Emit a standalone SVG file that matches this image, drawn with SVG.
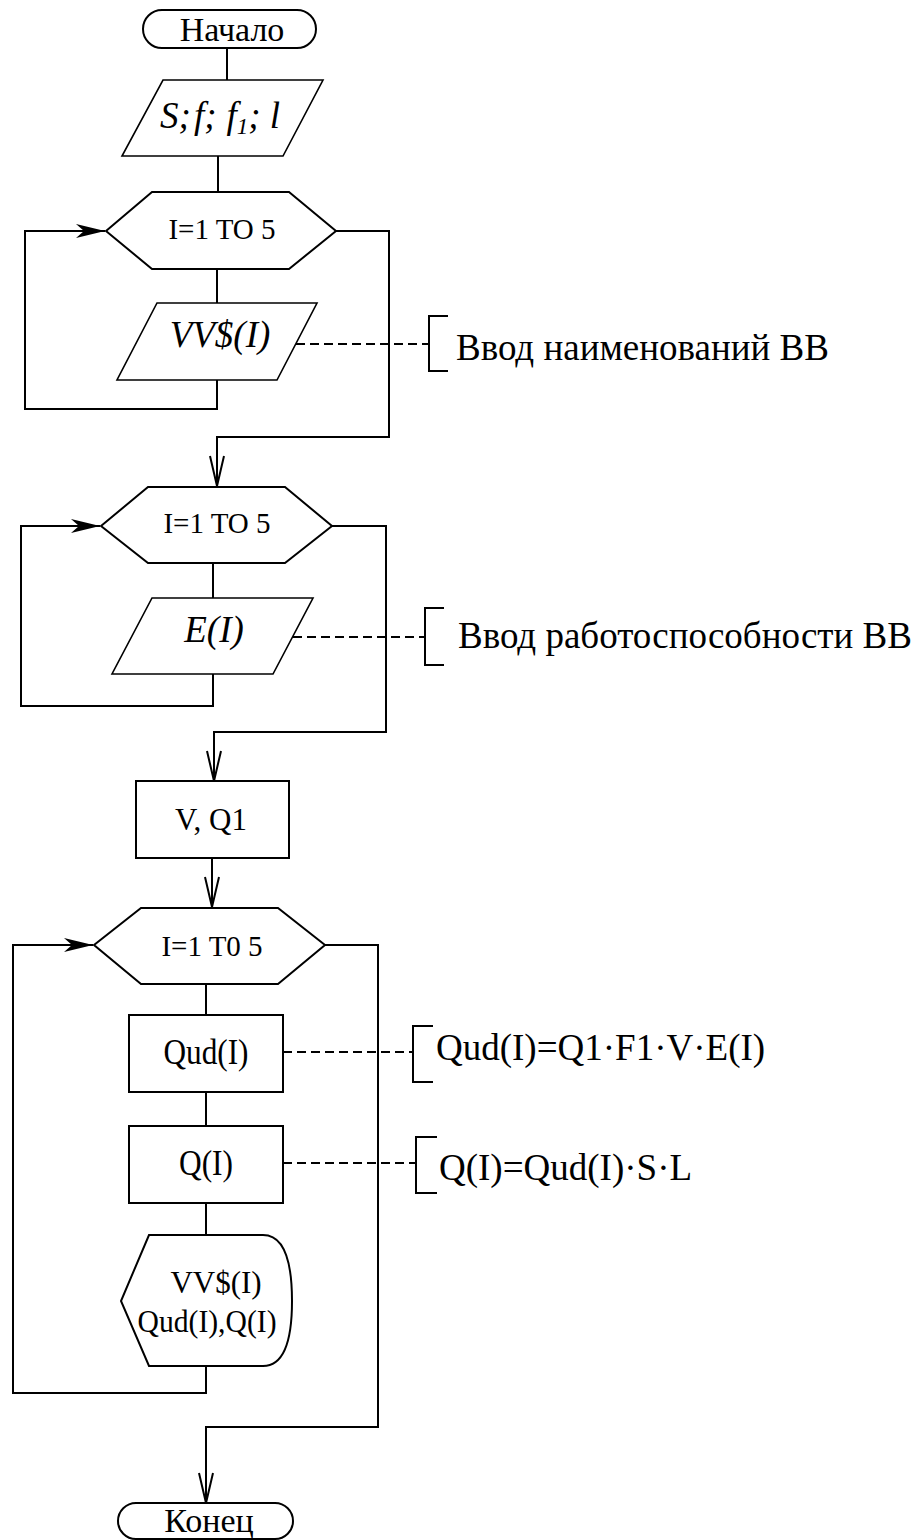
<svg xmlns="http://www.w3.org/2000/svg" width="920" height="1540" viewBox="0 0 920 1540">
  <style>
    .shape { fill: #fff; stroke: #000; stroke-width: 2; }
    .thin { fill: #fff; stroke: #000; stroke-width: 1.6; }
    .line { fill: none; stroke: #000; stroke-width: 2; }
    .dash { fill: none; stroke: #000; stroke-width: 2; stroke-dasharray: 9 5; }
    .brk { fill: none; stroke: #000; stroke-width: 2; }
    text { font-family: "Liberation Serif", "Times New Roman", serif; fill: #000; }
    .t34 { font-size: 34px; text-anchor: middle; }
    .hex { font-size: 29px; text-anchor: middle; }
    .box { font-size: 31px; text-anchor: middle; }
    .tall { font-size: 35px; text-anchor: middle; }
    .it { font-size: 37px; font-style: italic; text-anchor: middle; }
    .note { font-size: 37px; }
  </style>
  <defs>
    <marker id="open" markerUnits="userSpaceOnUse" viewBox="-32 -9 34 18" markerWidth="34" markerHeight="18" refX="0" refY="0" orient="auto">
      <path d="M-30,-7 L0,0 L-30,7" fill="none" stroke="#000" stroke-width="2"/>
    </marker>
    <marker id="barb" markerUnits="userSpaceOnUse" viewBox="-32 -9 34 18" markerWidth="34" markerHeight="18" refX="0" refY="0" orient="auto">
      <path d="M-29,-7 L0,0 L-29,7 L-21,0 Z" fill="#000"/>
    </marker>
  </defs>

  <!-- connectors -->
  <g id="connectors">
    <path class="line" d="M227,48 V80"/>
    <path class="line" d="M218,156 V192"/>
    <path class="line" d="M217,269 V303"/>
    <path class="line" d="M217,380 V409 H25 V231 H105" marker-end="url(#barb)"/>
    <path class="line" d="M336,231 H389 V437 H217 V486" marker-end="url(#open)"/>
    <path class="line" d="M213,563 V598"/>
    <path class="line" d="M213,674 V706 H21 V526 H100" marker-end="url(#barb)"/>
    <path class="line" d="M332,526 H386 V732 H214 V781" marker-end="url(#open)"/>
    <path class="line" d="M212,858 V907" marker-end="url(#open)"/>
    <path class="line" d="M206,984 V1015"/>
    <path class="line" d="M206,1092 V1126"/>
    <path class="line" d="M206,1203 V1235"/>
    <path class="line" d="M206,1366 V1393 H13 V945 H93" marker-end="url(#barb)"/>
    <path class="line" d="M325,945 H378 V1427 H206 V1503" marker-end="url(#open)"/>
    <!-- comment leaders -->
    <path class="dash" d="M296,344 H429"/>
    <path class="dash" d="M293,637 H425"/>
    <path class="dash" d="M283,1052 H413"/>
    <path class="dash" d="M283,1163 H416"/>
  </g>

  <g id="start">
    <rect class="shape" x="143" y="10" width="173" height="38" rx="19"/>
    <text class="t34" x="232" y="41">Начало</text>
  </g>

  <g id="input-params">
    <polygon class="thin" points="163,80 323,80 283,156 122,156"/>
    <text class="it" x="220" y="128">S;<tspan dx="3">f;</tspan><tspan dx="10">f</tspan><tspan font-size="23" dy="6">1</tspan><tspan dy="-6">;</tspan><tspan dx="9">l</tspan></text>
  </g>

  <g id="loop1">
    <polygon class="shape" points="106,231 152,192 289,192 336,231 289,269 152,269"/>
    <text class="hex" x="222" y="239">I=1 TO 5</text>
  </g>

  <g id="input-names">
    <polygon class="thin" points="157,303 317,303 277,380 117,380"/>
    <text class="it" x="220" y="347">VV$(I)</text>
  </g>

  <g id="note-names">
    <path class="brk" d="M448,316 H429 V371 H448"/>
    <text class="note" x="456" y="360">Ввод наименований ВВ</text>
  </g>

  <g id="loop2">
    <polygon class="shape" points="101,526 148,487 285,487 332,526 285,563 148,563"/>
    <text class="hex" x="217" y="533">I=1 TO 5</text>
  </g>

  <g id="input-e">
    <polygon class="thin" points="152,598 313,598 273,674 112,674"/>
    <text class="it" x="214" y="642">E(I)</text>
  </g>

  <g id="note-e">
    <path class="brk" d="M444,608 H425 V665 H444"/>
    <text class="note" x="458" y="648">Ввод работоспособности ВВ</text>
  </g>

  <g id="calc-v">
    <rect class="shape" x="136" y="781" width="153" height="77"/>
    <text class="box" x="211" y="830">V, Q1</text>
  </g>

  <g id="loop3">
    <polygon class="shape" points="94,945 141,908 278,908 325,945 278,984 141,984"/>
    <text class="hex" x="212" y="956">I=1 T0 5</text>
  </g>

  <g id="calc-qud">
    <rect class="shape" x="129" y="1015" width="154" height="77"/>
    <text class="tall" x="206" y="1064" textLength="85" lengthAdjust="spacingAndGlyphs">Qud(I)</text>
  </g>

  <g id="note-qud">
    <path class="brk" d="M433,1026 H413 V1082 H433"/>
    <text class="note" x="436" y="1060">Qud(I)=Q1·F1·V·E(I)</text>
  </g>

  <g id="calc-q">
    <rect class="shape" x="129" y="1126" width="154" height="77"/>
    <text class="tall" x="206" y="1175" textLength="54" lengthAdjust="spacingAndGlyphs">Q(I)</text>
  </g>

  <g id="note-q">
    <path class="brk" d="M437,1137 H416 V1193 H437"/>
    <text class="note" x="439" y="1180">Q(I)=Qud(I)·S·L</text>
  </g>

  <g id="display">
    <path class="shape" d="M149,1235 H263 C284,1235 292,1262 292,1301 C292,1340 284,1366 263,1366 H149 L121,1301 Z"/>
    <text class="box" x="216" y="1293">VV$(I)</text>
    <text class="box" x="207" y="1332" textLength="139" lengthAdjust="spacingAndGlyphs">Qud(I),Q(I)</text>
  </g>

  <g id="end">
    <rect class="shape" x="118" y="1503" width="175" height="36" rx="18"/>
    <text class="t34" x="209" y="1532">Конец</text>
  </g>
</svg>
